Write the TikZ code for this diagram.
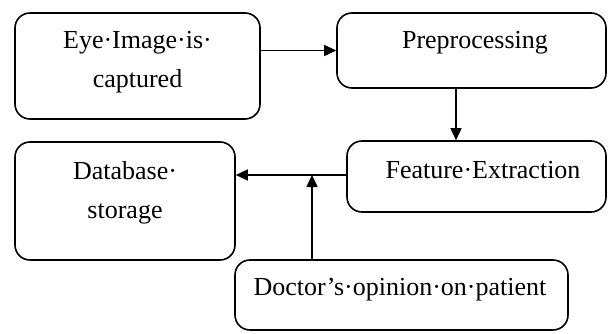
\documentclass[tikz,border=0pt]{standalone}
\usepackage{fontspec}
\setmainfont{Liberation Serif}
\usetikzlibrary{arrows.meta}
\begin{document}
\begin{tikzpicture}[x=1pt,y=1pt,
  box/.style={draw,line width=1.6pt,rounded corners=15pt,inner sep=0pt},
  txt/.style={align=center,font=\fontsize{26}{39}\selectfont,inner sep=0pt},
  arr/.style={line width=1.6pt,-{Triangle[length=12pt,width=11pt]}}]
\useasboundingbox (0,0) rectangle (608,333);
\node[box,minimum width=245pt,minimum height=106pt] (b1) at (137.5,267) {};
\node[box,minimum width=269pt,minimum height=75pt] (b2) at (471.5,282.5) {};
\node[box,minimum width=259pt,minimum height=71pt] (b3) at (476.5,156.5) {};
\node[box,minimum width=220pt,minimum height=118pt] (b4) at (125,132) {};
\node[box,minimum width=333pt,minimum height=70pt] (b5) at (401.5,38) {};
\node[txt] (t1) at (137.5,271) {Eye·Image·is·\\captured};
\node[txt] (t2) at (475,290) {Preprocessing};
\node[txt] (t3) at (483,163) {Feature·Extraction};
\node[txt] (t4) at (125,140.5) {Database·\\storage};
\node[txt] (t5) at (400,43) {Doctor’s·opinion·on·patient};
\coordinate (j) at (312,158);
\coordinate (d) at (456,0);
\draw[arr] (b1.east |- b2.west) -- (b2.west);
\draw[arr] (d |- b2.south) -- (d |- b3.north);
\draw[arr] (b3.west |- j) -- (b4.east |- j);
\draw[arr] (j |- b5.north) -- (j);
\end{tikzpicture}
\end{document}
